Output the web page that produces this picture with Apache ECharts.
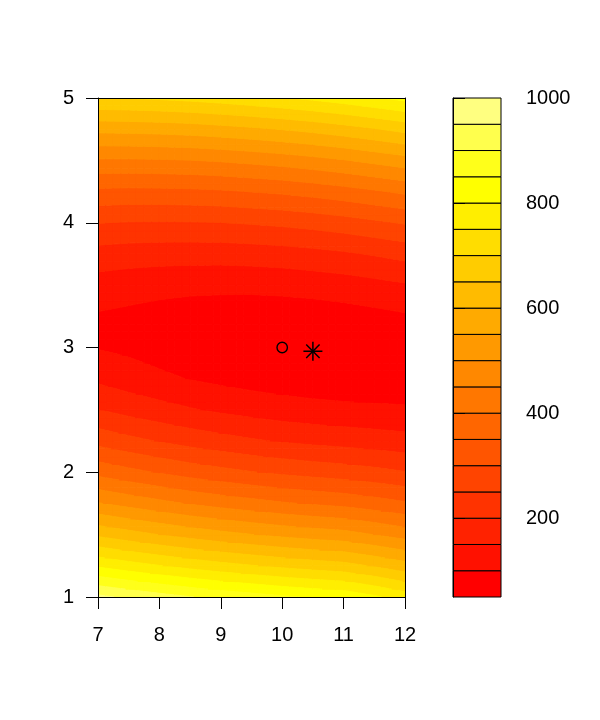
<!DOCTYPE html>
<html><head><meta charset="utf-8">
<script src="https://cdn.jsdelivr.net/npm/echarts@6/dist/echarts.min.js"></script>
<style>html,body{margin:0;padding:0;background:#fff;}#c{width:600px;height:720px;}</style>
</head><body><div id="c"></div>
<script>
// grid coordinates of the surface
const xs = [7, 7.5, 8, 8.5, 9, 9.5, 10, 10.5, 11, 11.5, 12];
const ys = [1, 1.25, 1.5, 1.75, 2, 2.25, 2.5, 2.75, 3, 3.25, 3.5, 3.75, 4, 4.25, 4.5, 4.75, 5];
// surface values: one row per y value, one column per x value
const zRows = [
  [961, 940, 920, 902, 885, 871, 857, 845, 835, 808, 776],
  [793, 771, 752, 733, 717, 703, 689, 677, 667, 645, 619],
  [640, 619, 599, 581, 565, 551, 538, 527, 518, 499, 479],
  [503, 483, 464, 446, 431, 418, 405, 395, 386, 372, 356],
  [384, 364, 346, 329, 315, 302, 291, 282, 274, 264, 252],
  [283, 264, 247, 231, 218, 206, 196, 188, 182, 175, 168],
  [201, 183, 168, 154, 142, 132, 123, 117, 112, 109, 106],
  [140, 124, 110, 98, 88, 80, 74, 69, 67, 67, 68],
  [97, 89, 78, 68, 61, 56, 53, 52, 54, 59, 64],
  [95, 89, 82, 76, 73, 72, 72, 74, 79, 86, 94],
  [128, 121, 116, 113, 112, 112, 115, 120, 126, 135, 145],
  [180, 175, 172, 171, 171, 174, 178, 185, 193, 204, 216],
  [251, 247, 246, 247, 249, 254, 260, 268, 278, 291, 304],
  [339, 337, 338, 340, 344, 351, 358, 368, 380, 394, 409],
  [444, 444, 446, 449, 455, 463, 472, 484, 497, 513, 529],
  [564, 566, 569, 574, 582, 591, 602, 614, 629, 646, 665],
  [700, 702, 707, 714, 723, 734, 746, 760, 776, 795, 814]
];
const levels = [50, 100, 150, 200, 250, 300, 350, 400, 450, 500, 550, 600, 650, 700, 750, 800, 850, 900, 950, 1000];
const bandColors = ['#FF0000', '#FF1100', '#FF2200', '#FF3300', '#FF4400', '#FF5500', '#FF6600', '#FF7700',
  '#FF8800', '#FF9900', '#FFAA00', '#FFBB00', '#FFCC00', '#FFDD00', '#FFEE00', '#FFFF00',
  '#FFFF1A', '#FFFF4D', '#FFFF80'];
const xTicks = [7, 8, 9, 10, 11, 12];
const yTicks = [1, 2, 3, 4, 5];
const legendTicks = [200, 400, 600, 800, 1000];
const truePoint = [[10, 3]];
const estimatePoint = [[10.5, 2.97]];

const FONT = 'Liberation Sans';
const FS = 20;
const SUB = 4; // drawing subdivision of each grid cell (bilinear shading)

function interp(p, q, L) {
  const t = (L - p.z) / (q.z - p.z);
  return { x: p.x + t * (q.x - p.x), y: p.y + t * (q.y - p.y), z: L };
}
function clip(poly, L, above) {
  const out = [];
  const inside = p => above ? p.z >= L : p.z <= L;
  for (let n = 0; n < poly.length; n++) {
    const cur = poly[n], prev = poly[(n + poly.length - 1) % poly.length];
    const ci = inside(cur), pi = inside(prev);
    if (ci) { if (!pi) out.push(interp(prev, cur, L)); out.push(cur); }
    else if (pi) out.push(interp(prev, cur, L));
  }
  return out;
}

const cells = [];
for (let j = 0; j < ys.length - 1; j++)
  for (let i = 0; i < xs.length - 1; i++)
    cells.push([xs[i], ys[j], i, j]);

const bands = bandColors.map((c, k) => [k, levels[k], levels[k + 1]]);

const tickStyle = { show: true, length: 12, lineStyle: { color: '#000', width: 1 } };
const lineStyle = { show: true, lineStyle: { color: '#000', width: 1 } };
const labelStyle = { fontFamily: FONT, fontSize: FS, color: '#000', formatter: v => String(v) };

const chart = echarts.init(document.getElementById('c'), null, { renderer: 'canvas' });
chart.setOption({
  animation: false,
  backgroundColor: '#fff',
  grid: [
    { left: 98, top: 98, width: 307, height: 499, show: false },
    { left: 453, top: 98, width: 48, height: 499, show: false }
  ],
  xAxis: [
    { type: 'value', gridIndex: 0, min: 7, max: 12, interval: 1, position: 'bottom', z: 10,
      axisLine: lineStyle, axisTick: Object.assign({ customValues: xTicks }, tickStyle),
      axisLabel: Object.assign({ margin: 28, customValues: xTicks }, labelStyle), splitLine: { show: false } },
    { type: 'value', gridIndex: 0, min: 7, max: 12, position: 'top', z: 10,
      axisLine: lineStyle, axisTick: { show: false }, axisLabel: { show: false }, splitLine: { show: false } },
    { type: 'value', gridIndex: 1, min: 0, max: 1, show: false }
  ],
  yAxis: [
    { type: 'value', gridIndex: 0, min: 1, max: 5, interval: 1, position: 'left', z: 10,
      axisLine: lineStyle, axisTick: Object.assign({ customValues: yTicks }, tickStyle),
      axisLabel: Object.assign({ margin: 24, customValues: yTicks }, labelStyle), splitLine: { show: false } },
    { type: 'value', gridIndex: 0, min: 1, max: 5, position: 'right', z: 10,
      axisLine: lineStyle, axisTick: { show: false }, axisLabel: { show: false }, splitLine: { show: false } },
    { type: 'value', gridIndex: 1, min: 50, max: 1000, position: 'right', z: 10,
      axisLine: lineStyle, axisTick: Object.assign({ customValues: legendTicks }, tickStyle),
      axisLabel: Object.assign({ margin: 25, customValues: legendTicks }, labelStyle), splitLine: { show: false } }
  ],
  series: [
    {
      type: 'custom', xAxisIndex: 0, yAxisIndex: 0, clip: true, silent: true,
      encode: { x: 0, y: 1 },
      data: cells,
      renderItem: function (params, api) {
        const i = api.value(2), j = api.value(3);
        const z00 = zRows[j][i], z10 = zRows[j][i + 1], z11 = zRows[j + 1][i + 1], z01 = zRows[j + 1][i];
        const x0 = xs[i], x1 = xs[i + 1], y0 = ys[j], y1 = ys[j + 1];
        const P = (u, v) => ({
          x: x0 + u * (x1 - x0), y: y0 + v * (y1 - y0),
          z: z00 * (1 - u) * (1 - v) + z10 * u * (1 - v) + z11 * u * v + z01 * (1 - u) * v
        });
        const children = [];
        for (let sv = 0; sv < SUB; sv++) {
          for (let su = 0; su < SUB; su++) {
            const u0 = su / SUB, u1 = (su + 1) / SUB, v0 = sv / SUB, v1 = (sv + 1) / SUB;
            const quad = [P(u0, v0), P(u1, v0), P(u1, v1), P(u0, v1)];
            for (let k = 0; k < bandColors.length; k++) {
              let poly = clip(quad, levels[k], true);
              if (poly.length < 3) continue;
              poly = clip(poly, levels[k + 1], false);
              if (poly.length < 3) continue;
              children.push({
                type: 'polygon',
                shape: { points: poly.map(p => api.coord([p.x, p.y])) },
                style: { fill: bandColors[k], stroke: bandColors[k], lineWidth: 1 }
              });
            }
          }
        }
        return { type: 'group', children: children };
      }
    },
    {
      type: 'custom', xAxisIndex: 0, yAxisIndex: 0, silent: true, z: 5,
      data: truePoint,
      renderItem: function (params, api) {
        const p = api.coord([api.value(0), api.value(1)]);
        return { type: 'circle', shape: { cx: p[0], cy: p[1], r: 5.2 },
          style: { fill: null, stroke: '#000', lineWidth: 1.4 } };
      }
    },
    {
      type: 'custom', xAxisIndex: 0, yAxisIndex: 0, silent: true, z: 5,
      data: estimatePoint,
      renderItem: function (params, api) {
        const p = api.coord([api.value(0), api.value(1)]);
        const r = 9.5, q = 6.7;
        const seg = (x1, y1, x2, y2) => ({ type: 'line',
          shape: { x1: p[0] + x1, y1: p[1] + y1, x2: p[0] + x2, y2: p[1] + y2 },
          style: { stroke: '#000', lineWidth: 1.5 } });
        return { type: 'group', children: [seg(-r, 0, r, 0), seg(0, -r, 0, r), seg(-q, -q, q, q), seg(-q, q, q, -q)] };
      }
    },
    {
      type: 'custom', xAxisIndex: 2, yAxisIndex: 2, silent: true,
      data: bands,
      renderItem: function (params, api) {
        const k = api.value(0);
        const p1 = api.coord([0, api.value(2)]);
        const p2 = api.coord([1, api.value(1)]);
        return { type: 'rect', shape: { x: p1[0], y: p1[1], width: p2[0] - p1[0], height: p2[1] - p1[1] },
          style: { fill: bandColors[k], stroke: '#000', lineWidth: 1 } };
      }
    }
  ]
});
</script>
</body></html>
